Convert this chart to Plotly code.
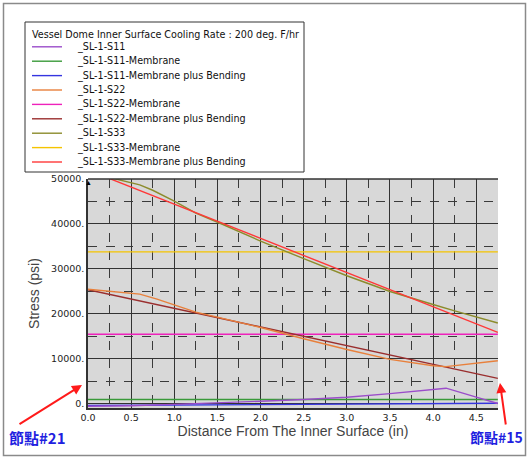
import plotly.graph_objects as go

# ---------------- data ----------------
legend_title = "Vessel Dome Inner Surface Cooling Rate : 200 deg. F/hr"
series_names = [
    "_SL-1-S11",
    "_SL-1-S11-Membrane",
    "_SL-1-S11-Membrane plus Bending",
    "_SL-1-S22",
    "_SL-1-S22-Membrane",
    "_SL-1-S22-Membrane plus Bending",
    "_SL-1-S33",
    "_SL-1-S33-Membrane",
    "_SL-1-S33-Membrane plus Bending",
]
series_colors = ["#9b4dca", "#3a9a3a", "#3535e0", "#e8803c", "#ee22bb",
                 "#9a2e2e", "#8c8c2c", "#f5c400", "#ff3838"]

s11_x = [0, 0.5, 1.0, 1.5, 2.0, 2.5, 3.0, 3.5, 4.0, 4.15, 4.5, 4.75]
s11_y = [-500, -400, -100, 200, 600, 1000, 1500, 2300, 3200, 3500, 1500, 100]
s11_mem_x = [0, 4.75]
s11_mem_y = [1000, 1000]
s11_mb_x = [0, 4.75]
s11_mb_y = [-350, 150]

s22_x = [0, 0.3, 0.6, 0.8, 1.0, 1.25, 1.5, 2.0, 2.5, 3.0, 3.5, 4.0, 4.15, 4.5, 4.75]
s22_y = [25500, 25000, 24400, 23300, 22000, 20400, 19300, 17000, 14500, 12100,
         9900, 8500, 8300, 9000, 9600]
s22_mem_x = [0, 4.75]
s22_mem_y = [15500, 15500]
s22_mb_x = [0, 4.75]
s22_mb_y = [25400, 5700]

s33_x = [0, 0.3, 0.6, 0.75, 1.0, 1.25, 1.55, 2.0, 2.5, 3.0, 3.5, 3.75, 4.0,
         4.25, 4.5, 4.75]
s33_y = [51200, 50100, 48700, 47500, 45100, 42400, 40000, 36200, 32300, 28500,
         25000, 23500, 22100, 20700, 19300, 18000]
s33_mem_x = [0, 4.75]
s33_mem_y = [33800, 33800]
s33_mb_x = [0, 4.75]
s33_mb_y = [52000, 15900]

y_tickvals = [0, 10000, 20000, 30000, 40000, 50000]
y_ticktext = ["0.", "10000.", "20000.", "30000.", "40000.", "50000."]
x_tickvals = [0.0, 0.5, 1.0, 1.5, 2.0, 2.5, 3.0, 3.5, 4.0, 4.5]
x_ticktext = ["0.0", "0.5", "1.0", "1.5", "2.0", "2.5", "3.0", "3.5", "4.0", "4.5"]

x_title = "Distance From The Inner Surface (in)"
y_title = "Stress (psi)"
node_left = "節點#21"
node_right = "節點#15"

all_x = [s11_x, s11_mem_x, s11_mb_x, s22_x, s22_mem_x, s22_mb_x, s33_x, s33_mem_x, s33_mb_x]
all_y = [s11_y, s11_mem_y, s11_mb_y, s22_y, s22_mem_y, s22_mb_y, s33_y, s33_mem_y, s33_mb_y]

# ---------------- layout geometry ----------------
W, H = 529, 460
ML, MR, MT, MB = 88, 31, 179, 52
PW, PH = W - ML - MR, H - MT - MB


def px(xp):
    return (xp - ML) / PW


def py(yp):
    return (H - MB - yp) / PH


fig = go.Figure()

# draw order: membrane lines first, then others
order = [1, 2, 0, 4, 5, 3, 7, 6, 8]
for i in order:
    fig.add_trace(go.Scatter(
        x=all_x[i], y=all_y[i], mode="lines", name=series_names[i],
        line=dict(color=series_colors[i], width=1.4),
        showlegend=False, cliponaxis=True,
    ))

shapes = []
annotations = []

# outer frame
shapes.append(dict(type="rect", xref="paper", yref="paper",
                   x0=px(3.5), x1=px(525.5), y0=py(455.5), y1=py(3.5),
                   line=dict(color="#8a8a8a", width=1.5), fillcolor="rgba(0,0,0,0)",
                   layer="below"))

# manual legend box
shapes.append(dict(type="rect", xref="paper", yref="paper",
                   x0=px(25), x1=px(304), y0=py(172), y1=py(22),
                   line=dict(color="#333333", width=1), fillcolor="white"))
legend_font = dict(family="DejaVu Sans", size=9.6, color="#111")
annotations.append(dict(xref="paper", yref="paper", x=px(30), y=py(34),
                        xanchor="left", yanchor="middle", showarrow=False,
                        text=legend_title, font=legend_font))
for i, name in enumerate(series_names):
    yy = 46.8 + i * 14.4
    shapes.append(dict(type="line", xref="paper", yref="paper",
                       x0=px(32), x1=px(62), y0=py(yy), y1=py(yy),
                       line=dict(color=series_colors[i], width=1.4)))
    annotations.append(dict(xref="paper", yref="paper", x=px(75), y=py(yy),
                            xanchor="left", yanchor="middle", showarrow=False,
                            text=name, font=legend_font))

# small up marker at top-left of plot
annotations.append(dict(xref="paper", yref="paper", x=px(88), y=py(182),
                        xanchor="center", yanchor="middle", showarrow=False,
                        text="▲", font=dict(size=7, color="black")))

# red arrows (head at x,y; tail offset in pixels)
annotations.append(dict(xref="paper", yref="paper", x=px(82), y=py(385),
                        ax=18 - 82, ay=425 - 385,
                        text="", showarrow=True, arrowhead=2, arrowsize=1,
                        arrowwidth=2, arrowcolor="#ff1a1a"))
annotations.append(dict(xref="paper", yref="paper", x=px(500), y=py(383),
                        ax=506 - 500, ay=426 - 383,
                        text="", showarrow=True, arrowhead=2, arrowsize=1,
                        arrowwidth=2, arrowcolor="#ff1a1a"))
annotations.append(dict(xref="paper", yref="paper", x=px(37), y=py(437),
                        xanchor="center", yanchor="middle", showarrow=False,
                        text="<b>" + node_left + "</b>",
                        font=dict(family="Noto Sans CJK TC", size=15, color="#1f1fe0")))
annotations.append(dict(xref="paper", yref="paper", x=px(496), y=py(437),
                        xanchor="center", yanchor="middle", showarrow=False,
                        text="<b>" + node_right + "</b>",
                        font=dict(family="Noto Sans CJK TC", size=14, color="#1f1fe0")))

fig.update_layout(
    width=W, height=H,
    margin=dict(l=ML, r=MR, t=MT, b=MB, pad=0),
    paper_bgcolor="white",
    plot_bgcolor="#d8d8d8",
    showlegend=False,
    shapes=shapes,
    annotations=annotations,
    xaxis=dict(
        range=[0, 4.752], tickvals=x_tickvals, ticktext=x_ticktext,
        showgrid=True, gridcolor="#333333", gridwidth=1,
        minor=dict(dtick=0.25, tick0=0.25, showgrid=True, gridcolor="#3a3a3a",
                   griddash="dash", gridwidth=1),
        showline=True, linecolor="#333333", linewidth=1.5, mirror=False,
        zeroline=False, ticks="", ticklen=0,
        tickfont=dict(family="DejaVu Sans", size=9.5, color="#222"),
        title=dict(text=x_title, standoff=4,
                   font=dict(family="Liberation Sans", size=14, color="#444")),
    ),
    yaxis=dict(
        range=[-900, 50000], tickvals=y_tickvals, ticktext=y_ticktext,
        showgrid=True, gridcolor="#333333", gridwidth=1,
        minor=dict(dtick=10000, tick0=5000, showgrid=True, gridcolor="#3a3a3a",
                   griddash="dash", gridwidth=1),
        showline=True, linecolor="#333333", linewidth=1.5, mirror=False,
        zeroline=False, ticks="", ticklen=0,
        tickfont=dict(family="DejaVu Sans", size=9.5, color="#222"),
        title=dict(text=y_title, standoff=8,
                   font=dict(family="Liberation Sans", size=14, color="#444")),
    ),
)

# top border of plot area
fig.add_shape(type="line", xref="paper", yref="paper", x0=0, x1=1, y0=1, y1=1,
              line=dict(color="#333333", width=1.5))

fig.write_html("out.html")
